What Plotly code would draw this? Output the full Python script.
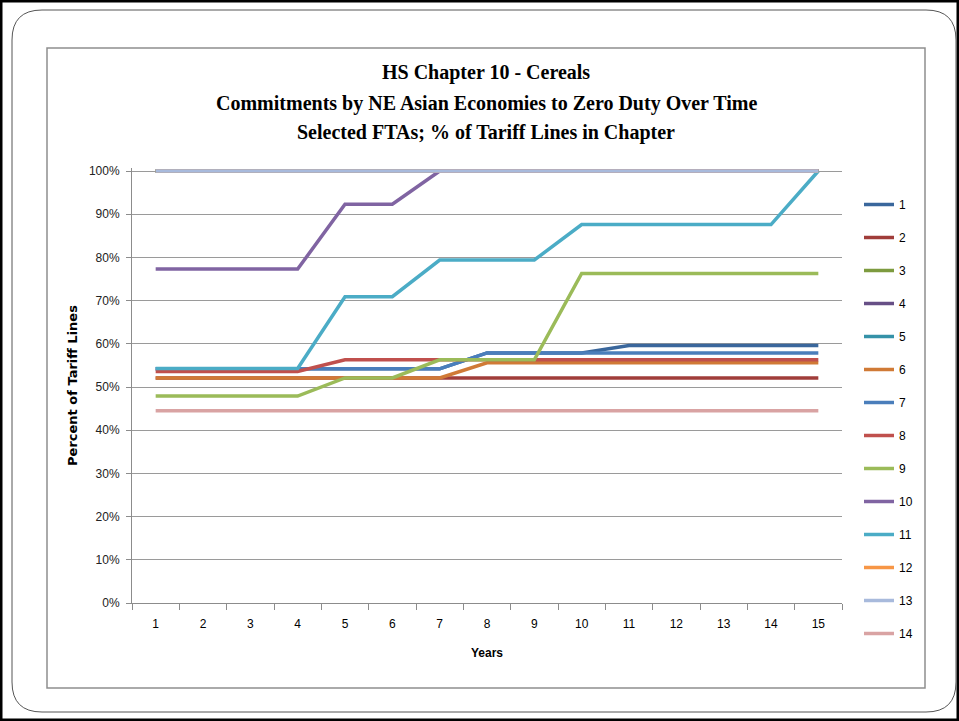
import plotly.graph_objects as go

# Years after entry into force
years = [str(i) for i in range(1, 16)]

# Y-axis tick positions and labels
y_ticks = list(range(0, 101, 10))
y_tick_labels = [f"{v}%" for v in y_ticks]

# Share of tariff lines at zero duty (%), one list per FTA series
s1 = [54.2, 54.2, 54.2, 54.2, 54.2, 54.2, 54.2, 57.9, 57.9, 57.9, 59.6, 59.6, 59.6, 59.6, 59.6]
s2 = [52.1] * 15
s3 = [100.0] * 15
s4 = [100.0] * 15
s5 = [100.0] * 15
s6 = [52.1, 52.1, 52.1, 52.1, 52.1, 52.1, 52.1, 55.6, 55.6, 55.6, 55.6, 55.6, 55.6, 55.6, 55.6]
s7 = [54.2, 54.2, 54.2, 54.2, 54.2, 54.2, 54.2, 57.9, 57.9, 57.9, 57.9, 57.9, 57.9, 57.9, 57.9]
s8 = [53.6, 53.6, 53.6, 53.6, 56.3, 56.3, 56.3, 56.3, 56.3, 56.3, 56.3, 56.3, 56.3, 56.3, 56.3]
s9 = [47.9, 47.9, 47.9, 47.9, 52.1, 52.1, 56.3, 56.3, 56.3, 76.3, 76.3, 76.3, 76.3, 76.3, 76.3]
s10 = [77.3, 77.3, 77.3, 77.3, 92.3, 92.3, 100.0, 100.0, 100.0, 100.0, 100.0, 100.0, 100.0, 100.0, 100.0]
s11 = [54.3, 54.3, 54.3, 54.3, 70.9, 70.9, 79.4, 79.4, 79.4, 87.6, 87.6, 87.6, 87.6, 87.6, 100.0]
s12 = [100.0] * 15
s13 = [100.0] * 15
s14 = [44.5] * 15

series_names = [str(i) for i in range(1, 15)]
series_values = [s1, s2, s3, s4, s5, s6, s7, s8, s9, s10, s11, s12, s13, s14]
series_colors = ["#3A679C", "#A03D3A", "#7D9B3F", "#674F86", "#3592A8", "#D07A36",
                 "#4A7EBB", "#C0504D", "#9BBB59", "#8064A2", "#4BACC6", "#F79646",
                 "#A8BADC", "#D9A3A3"]

W, H = 959, 721
ML, MR, MT, MB = 132, 117, 168, 118
PW, PH = W - ML - MR, H - MT - MB


def px_x(px):
    return (px - ML) / PW


def px_y(py):
    return (H - MB - py) / PH


fig = go.Figure()
for name, vals, col in zip(series_names, series_values, series_colors):
    fig.add_trace(go.Scatter(
        x=years, y=vals, name=name, mode="lines",
        line=dict(color=col, width=3.5),
        legendgroup=name,
    ))

# Outer frame, rounded panel and inner chart border
r = 30
x0, y0, x1, y1 = 12, 10, 956, 712
rounded = (
    f"M {px_x(x0 + r)},{px_y(y0)} L {px_x(x1 - r)},{px_y(y0)} "
    f"Q {px_x(x1)},{px_y(y0)} {px_x(x1)},{px_y(y0 + r)} "
    f"L {px_x(x1)},{px_y(y1 - r)} "
    f"Q {px_x(x1)},{px_y(y1)} {px_x(x1 - r)},{px_y(y1)} "
    f"L {px_x(x0 + r)},{px_y(y1)} "
    f"Q {px_x(x0)},{px_y(y1)} {px_x(x0)},{px_y(y1 - r)} "
    f"L {px_x(x0)},{px_y(y0 + r)} "
    f"Q {px_x(x0)},{px_y(y0)} {px_x(x0 + r)},{px_y(y0)} Z"
)
shapes = [
    dict(type="rect", xref="paper", yref="paper", layer="below",
         x0=px_x(1), x1=px_x(958), y0=px_y(1), y1=px_y(720),
         line=dict(color="black", width=3)),
    dict(type="path", xref="paper", yref="paper", layer="below", path=rounded,
         line=dict(color="#555555", width=1)),
    dict(type="rect", xref="paper", yref="paper", layer="below",
         x0=px_x(47), x1=px_x(925), y0=px_y(48), y1=px_y(688),
         line=dict(color="#8E8E8E", width=1.5)),
]

title_lines = [
    ("HS Chapter 10 - Cereals", 73),
    ("Commitments by NE Asian Economies to Zero Duty Over Time", 103),
    ("Selected FTAs; % of Tariff Lines in Chapter", 132),
]
annotations = []
for txt, py in title_lines:
    annotations.append(dict(
        text=f"<b>{txt}</b>", xref="paper", yref="paper",
        x=px_x(486), y=px_y(py), xanchor="center", yanchor="middle",
        showarrow=False,
        font=dict(family="Liberation Serif", size=20, color="black"),
    ))

fig.update_layout(
    width=W, height=H,
    margin=dict(l=ML, r=MR, t=MT, b=MB),
    paper_bgcolor="white", plot_bgcolor="white",
    shapes=shapes, annotations=annotations,
    showlegend=True,
    legend=dict(
        x=px_x(859), y=px_y(190), xanchor="left", yanchor="top",
        traceorder="grouped", tracegroupgap=14, maxheight=600,
        font=dict(family="Liberation Sans", size=12, color="black"),
        bgcolor="rgba(0,0,0,0)",
    ),
    xaxis=dict(
        type="category", range=[-0.5, 14.5],
        tickson="boundaries", ticks="outside", ticklen=6, tickcolor="#8C8C8C",
        ticklabelstandoff=10,
        showgrid=False, showline=True, linecolor="#8C8C8C", linewidth=1,
        tickfont=dict(family="Liberation Sans", size=12, color="black"),
        title=dict(text="<b>Years</b>", standoff=18,
                   font=dict(family="Liberation Sans", size=12, color="black")),
    ),
    yaxis=dict(
        range=[0, 100.7], tickvals=y_ticks, ticktext=y_tick_labels,
        ticks="outside", ticklen=5, tickcolor="#8C8C8C",
        ticklabelstandoff=4,
        showgrid=True, gridcolor="#9A9A9A", gridwidth=1,
        zeroline=False, showline=True, linecolor="#8C8C8C", linewidth=1,
        tickfont=dict(family="Liberation Sans", size=12, color="#222222"),
        title=dict(text="<b>Percent of Tariff Lines</b>", standoff=8,
                   font=dict(family="DejaVu Sans", size=13, color="black")),
    ),
)

fig.write_html("out.html")
